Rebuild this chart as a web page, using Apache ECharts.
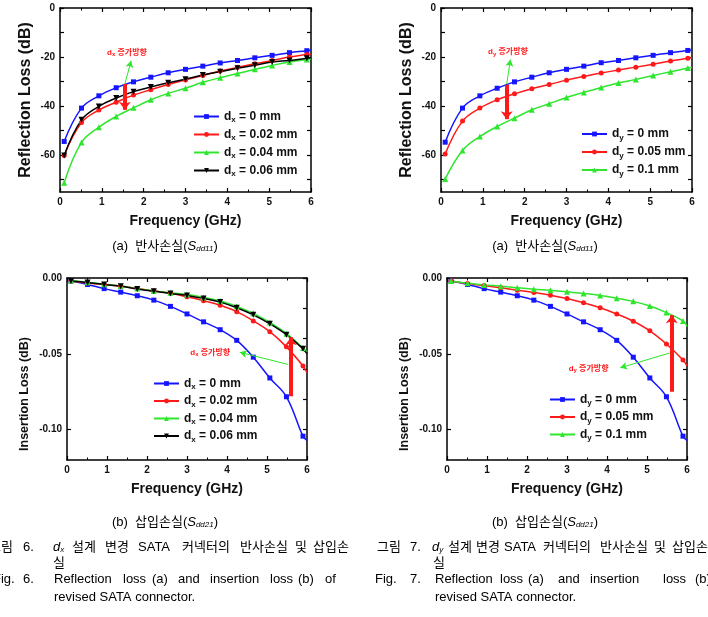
<!DOCTYPE html>
<html>
<head>
<meta charset="utf-8">
<script src="https://cdn.jsdelivr.net/npm/echarts@6/dist/echarts.min.js"></script>
<style>
  html, body { margin: 0; padding: 0; background: #fff; }
  #chart { width: 708px; height: 617px; }
</style>
</head>
<body>
<div id="chart"></div>
<script>
// marker frequencies (GHz), last point is the line end at 6 GHz
const freq = [0.1, 0.514, 0.929, 1.343, 1.757, 2.171, 2.586, 3.0, 3.414, 3.829, 4.243, 4.657, 5.071, 5.486, 5.9, 6.0];

// reflection loss, dx sweep (dB)
const rlDx0   = [-54.4, -40.8, -35.8, -32.5, -30.1, -28.2, -26.4, -25.0, -23.7, -22.4, -21.4, -20.3, -19.3, -18.2, -17.4, -17.1];
const rlDx002 = [-60.1, -46.7, -41.6, -38.4, -35.5, -33.3, -31.2, -29.3, -27.5, -25.7, -24.2, -22.7, -21.4, -20.0, -19.0, -18.8];
const rlDx004 = [-71.2, -54.8, -48.6, -44.2, -40.7, -37.4, -34.8, -32.7, -30.3, -28.4, -26.7, -25.0, -23.4, -22.0, -21.0, -20.7];
const rlDx006 = [-60.1, -45.6, -40.1, -36.7, -34.1, -32.2, -30.5, -29.0, -27.3, -26.0, -24.6, -23.3, -22.0, -21.4, -20.5, -20.3];

// reflection loss, dy sweep (dB)
const rlDy0   = [-54.7, -40.8, -35.8, -32.7, -30.1, -28.2, -26.4, -25.0, -23.7, -22.3, -21.4, -20.3, -19.3, -18.2, -17.3, -17.1];
const rlDy005 = [-59.5, -46.1, -40.8, -37.4, -35.0, -32.9, -31.2, -29.4, -27.9, -26.5, -25.3, -24.1, -22.9, -21.6, -20.5, -20.2];
const rlDy01  = [-69.7, -58.1, -52.4, -48.3, -44.9, -41.5, -39.0, -36.5, -34.4, -32.4, -30.6, -29.1, -27.5, -26.0, -24.5, -24.2];

// insertion loss, dx sweep (dB)
const ilDx0   = [-0.002, -0.0043, -0.007, -0.0093, -0.0117, -0.0146, -0.0187, -0.0237, -0.0289, -0.0341, -0.0411, -0.0522, -0.0659, -0.0783, -0.1043, -0.107];
const ilDx002 = [-0.002, -0.0033, -0.0043, -0.0054, -0.007, -0.0085, -0.010, -0.0124, -0.015, -0.018, -0.0222, -0.0283, -0.0354, -0.0454, -0.058, -0.0624];
const ilDx004 = [-0.0017, -0.0028, -0.0041, -0.0052, -0.007, -0.0085, -0.0098, -0.0109, -0.0128, -0.0152, -0.0187, -0.0233, -0.0293, -0.0367, -0.0461, -0.049];
const ilDx006 = [-0.002, -0.003, -0.0043, -0.0054, -0.0072, -0.0087, -0.0102, -0.0115, -0.0135, -0.0159, -0.0196, -0.0243, -0.0302, -0.0374, -0.0467, -0.0498];

// insertion loss, dy sweep (dB)
const ilDy0   = [-0.002, -0.0043, -0.007, -0.0093, -0.0117, -0.0146, -0.0187, -0.0237, -0.0289, -0.0341, -0.0411, -0.0522, -0.0659, -0.0783, -0.1043, -0.107];
const ilDy005 = [-0.002, -0.0037, -0.005, -0.0065, -0.008, -0.0096, -0.0113, -0.0135, -0.0163, -0.0196, -0.0237, -0.0285, -0.0348, -0.0435, -0.0541, -0.058];
const ilDy01  = [-0.002, -0.0035, -0.0046, -0.0054, -0.0065, -0.0074, -0.008, -0.0091, -0.0102, -0.0115, -0.0133, -0.0154, -0.0185, -0.0228, -0.0283, -0.032];

const dxNames = ['dx = 0 mm', 'dx = 0.02 mm', 'dx = 0.04 mm', 'dx = 0.06 mm'];
const dyNames = ['dy = 0 mm', 'dy = 0.05 mm', 'dy = 0.1 mm'];

// tick labels
const rlLabels = [0, -20, -40, -60];
const rlTicks = [0, -10, -20, -30, -40, -50, -60, -70];
const ilLabels = [0, -0.05, -0.10];
const ilTicks = [0, -0.02, -0.04, -0.06, -0.08, -0.10];

// annotation arrows in data coords: [start, end]
const redArrows = [
  [[1.55, -31], [1.55, -41.5]],
  [[1.57, -31.3], [1.57, -45.3]],
  [[5.6, -0.078], [5.6, -0.039]],
  [[5.62, -0.075], [5.62, -0.0245]]
];
const greenArrows = [
  [[1.55, -31], [1.7, -21.5]],
  [[1.57, -31], [1.66, -21]],
  [[5.53, -0.057], [4.32, -0.049]],
  [[5.57, -0.0494], [4.33, -0.0592]]
];
const noteSpots = [[1.6, -18.2], [1.6, -18], [3.58, -0.049], [3.54, -0.0597]];
const noteSubs = ['x', 'y', 'x', 'y'];

const BLUE = '#1515ff', RED = '#ff1a1a', GREEN = '#2ee62e', BLACK = '#000';
const styles = {
  blue:  { color: BLUE, symbol: 'rect', size: 5 },
  red:   { color: RED, symbol: 'circle', size: 5 },
  green: { color: GREEN, symbol: 'triangle', size: 6 },
  black: { color: BLACK, symbol: 'triangle', size: 6, rot: 180 }
};

const grids = [
  { left: 60, top: 8, width: 251, height: 184 },
  { left: 441, top: 8, width: 251, height: 184 },
  { left: 67, top: 278, width: 240, height: 182 },
  { left: 447, top: 278, width: 240, height: 182 }
];

const FONT = 'Liberation Sans, Arial, sans-serif';
const axisLine = { show: true, onZero: false, lineStyle: { color: '#000', width: 1.5 } };

const xAxes = [], yAxes = [];
grids.forEach((g, i) => {
  xAxes.push({
    gridIndex: i, type: 'value', position: 'bottom', min: 0, max: 6, interval: 1,
    name: 'Frequency (GHz)', nameLocation: 'middle', nameGap: 22,
    nameTextStyle: { fontFamily: FONT, fontWeight: 'bold', fontSize: 14, color: '#111' },
    axisLine, splitLine: { show: false },
    axisTick: { inside: true, length: 4, lineStyle: { width: 1.2 } },
    minorTick: { show: true, splitNumber: 2, length: 2.5, lineStyle: { color: '#000', width: 1 } },
    axisLabel: { fontFamily: FONT, fontWeight: 'bold', fontSize: 10, color: '#111', margin: 5 }
  });
  xAxes.push({
    gridIndex: i, type: 'value', position: 'top', min: 0, max: 6, interval: 1,
    axisLine, splitLine: { show: false }, axisLabel: { show: false },
    axisTick: { inside: true, length: 4, lineStyle: { width: 1.2 } },
    minorTick: { show: true, splitNumber: 2, length: 2.5, lineStyle: { color: '#000', width: 1 } }
  });
  const isRL = i < 2;
  const labels = isRL ? rlLabels : ilLabels;
  const ticks = isRL ? rlTicks : ilTicks;
  yAxes.push({
    gridIndex: i, type: 'value', position: 'left',
    min: isRL ? -75 : -0.12, max: 0,
    name: isRL ? 'Reflection Loss (dB)' : 'Insertion Loss (dB)',
    nameLocation: 'middle', nameGap: isRL ? 26 : 36,
    nameTextStyle: {
      fontFamily: FONT, fontWeight: 'bold', fontSize: isRL ? 16 : 12.5, color: '#111',
      padding: isRL ? [0, 0, 0, 0] : [0, 50, 0, 0]
    },
    axisLine, splitLine: { show: false },
    axisTick: { inside: true, length: 4, lineStyle: { width: 1.2 }, customValues: isRL ? ticks : labels },
    axisLabel: {
      fontFamily: FONT, fontWeight: 'bold', fontSize: 10, color: '#111', margin: 5,
      customValues: labels,
      formatter: v => isRL ? String(v) : v.toFixed(2)
    }
  });
  yAxes.push({
    gridIndex: i, type: 'value', position: 'right',
    min: isRL ? -75 : -0.12, max: 0,
    axisLine, splitLine: { show: false },
    axisTick: { inside: true, length: 4, lineStyle: { width: 1.2 }, customValues: ticks },
    axisLabel: { show: false, customValues: [] }
  });
});

function mkSeries(name, vals, gi, st, extra) {
  return Object.assign({
    name, type: 'line', xAxisIndex: gi * 2, yAxisIndex: gi * 2,
    smooth: 0.4, symbol: st.symbol, symbolSize: st.size, symbolRotate: st.rot || 0,
    color: st.color, lineStyle: { width: 1.5, color: st.color },
    itemStyle: { color: st.color },
    data: freq.map((f, k) => k === freq.length - 1
      ? { value: [f, vals[k]], symbol: 'none' }
      : [f, vals[k]])
  }, extra || {});
}

function annotations(gi) {
  return {
    markLine: {
      silent: true, animation: false, label: { show: false },
      symbol: ['none', 'arrow'],
      data: [
        [{ coord: redArrows[gi][0], symbol: 'none', lineStyle: { color: RED, width: 4, type: 'solid' } },
         { coord: redArrows[gi][1], symbol: 'arrow', symbolSize: [9, 8] }],
        [{ coord: greenArrows[gi][0], symbol: 'none', lineStyle: { color: GREEN, width: 1, type: 'solid' } },
         { coord: greenArrows[gi][1], symbol: 'arrow', symbolSize: [6, 7] }]
      ]
    },
    markPoint: {
      silent: true, animation: false,
      data: [{
        coord: noteSpots[gi], symbol: 'circle', symbolSize: 0,
        label: {
          show: true, position: 'inside',
          formatter: '{a|d}{b|' + noteSubs[gi] + '}{a| 증가방향}',
          rich: {
            a: { fontFamily: 'Liberation Sans, Noto Sans CJK KR', fontWeight: 'bold', fontSize: 8, color: RED },
            b: { fontFamily: FONT, fontWeight: 'bold', fontSize: 6, color: RED, padding: [4, 0, 0, 0] }
          }
        }
      }]
    }
  };
}

const series = [
  mkSeries(dxNames[0], rlDx0, 0, styles.blue, annotations(0)),
  mkSeries(dxNames[1], rlDx002, 0, styles.red),
  mkSeries(dxNames[2], rlDx004, 0, styles.green),
  mkSeries(dxNames[3], rlDx006, 0, styles.black),
  mkSeries(dyNames[0], rlDy0, 1, styles.blue, annotations(1)),
  mkSeries(dyNames[1], rlDy005, 1, styles.red),
  mkSeries(dyNames[2], rlDy01, 1, styles.green),
  mkSeries(dxNames[0], ilDx0, 2, styles.blue),
  mkSeries(dxNames[1], ilDx002, 2, styles.red),
  mkSeries(dxNames[2], ilDx004, 2, styles.green),
  mkSeries(dxNames[3], ilDx006, 2, styles.black, annotations(2)),
  mkSeries(dyNames[0], ilDy0, 3, styles.blue),
  mkSeries(dyNames[1], ilDy005, 3, styles.red),
  mkSeries(dyNames[2], ilDy01, 3, styles.green, annotations(3))
];

const legendRich = {
  b: { fontFamily: FONT, fontWeight: 'bold', fontSize: 12, color: '#111' },
  s: { fontFamily: FONT, fontWeight: 'bold', fontSize: 8, color: '#111', padding: [7, 0, 0, 0] }
};
function mkLegend(names, left, top, gap) {
  return {
    data: names, orient: 'vertical', left, top, padding: 0,
    itemWidth: 25, itemHeight: 6, itemGap: gap,
    selectedMode: false,
    formatter: n => '{b|' + n[0] + '}{s|' + n[1] + '}{b|' + n.slice(2) + '}',
    textStyle: { rich: legendRich }
  };
}
const legends = [
  mkLegend(dxNames, 193, 110.5, 4.5),
  mkLegend(dyNames, 581, 128, 4.5),
  mkLegend(dxNames, 153, 377.5, 4),
  mkLegend(dyNames, 549, 393.5, 4)
];

// captions
const capFont = 'Liberation Sans, Noto Sans CJK KR, sans-serif';
const capRich = {
  n: { fontFamily: capFont, fontSize: 13, color: '#222' },
  i: { fontFamily: capFont, fontSize: 13, fontStyle: 'italic', color: '#222' },
  s: { fontFamily: capFont, fontSize: 8, fontStyle: 'italic', color: '#222', padding: [5, 0, 0, 0] }
};
const subCaptions = [
  ['(a)  반사손실(', 'dd11', 165, 246],
  ['(a)  반사손실(', 'dd11', 545, 246],
  ['(b)  삽입손실(', 'dd21', 165, 522],
  ['(b)  삽입손실(', 'dd21', 545, 522]
];
const figWordsL1 = [
  [['그림', -11], ['6.', 23], ['~x', 53], ['설계', 72], ['변경', 105], ['SATA', 138], ['커넥터의', 182], ['반사손실', 240], ['및', 295], ['삽입손', 313]],
  [['그림', 377], ['7.', 410], ['~y', 432], ['설계', 448], ['변경', 476], ['SATA', 504], ['커넥터의', 543], ['반사손실', 600], ['및', 654], ['삽입손', 672]]
];
const figWordsL3 = [
  [['Fig.', -7], ['6.', 23], ['Reflection', 54], ['loss', 123], ['(a)', 152], ['and', 178], ['insertion', 210], ['loss', 270], ['(b)', 298], ['of', 325]],
  [['Fig.', 375], ['7.', 410], ['Reflection', 435], ['loss', 500], ['(a)', 528], ['and', 558], ['insertion', 590], ['loss', 663], ['(b)', 695]]
];
const figTail = [['실', 53, 'revised SATA connector.', 54], ['실', 433, 'revised SATA connector.', 435]];

const graphics = [];
subCaptions.forEach(([pre, sub, x, y]) => {
  graphics.push({
    type: 'text', x, y,
    style: { text: '{n|' + pre + '}{i|S}{s|' + sub + '}{n|)}', rich: capRich, align: 'center', verticalAlign: 'middle' }
  });
});
function word(t, x, y) {
  let text = '{n|' + t + '}';
  if (t[0] === '~') text = '{i|d}{s|' + t[1] + '}';
  graphics.push({ type: 'text', x, y, style: { text, rich: capRich, align: 'left', verticalAlign: 'middle' } });
}
figWordsL1.forEach(line => line.forEach(([t, x]) => word(t, x, 547)));
figWordsL3.forEach(line => line.forEach(([t, x]) => word(t, x, 579)));
figTail.forEach(([t1, x1, t2, x2]) => { word(t1, x1, 563); word(t2, x2, 597); });

const chart = echarts.init(document.getElementById('chart'), null, { renderer: 'canvas' });
chart.setOption({
  animation: false,
  backgroundColor: '#fff',
  grid: grids,
  xAxis: xAxes,
  yAxis: yAxes,
  legend: legends,
  series,
  graphic: graphics
});
</script>
</body>
</html>
